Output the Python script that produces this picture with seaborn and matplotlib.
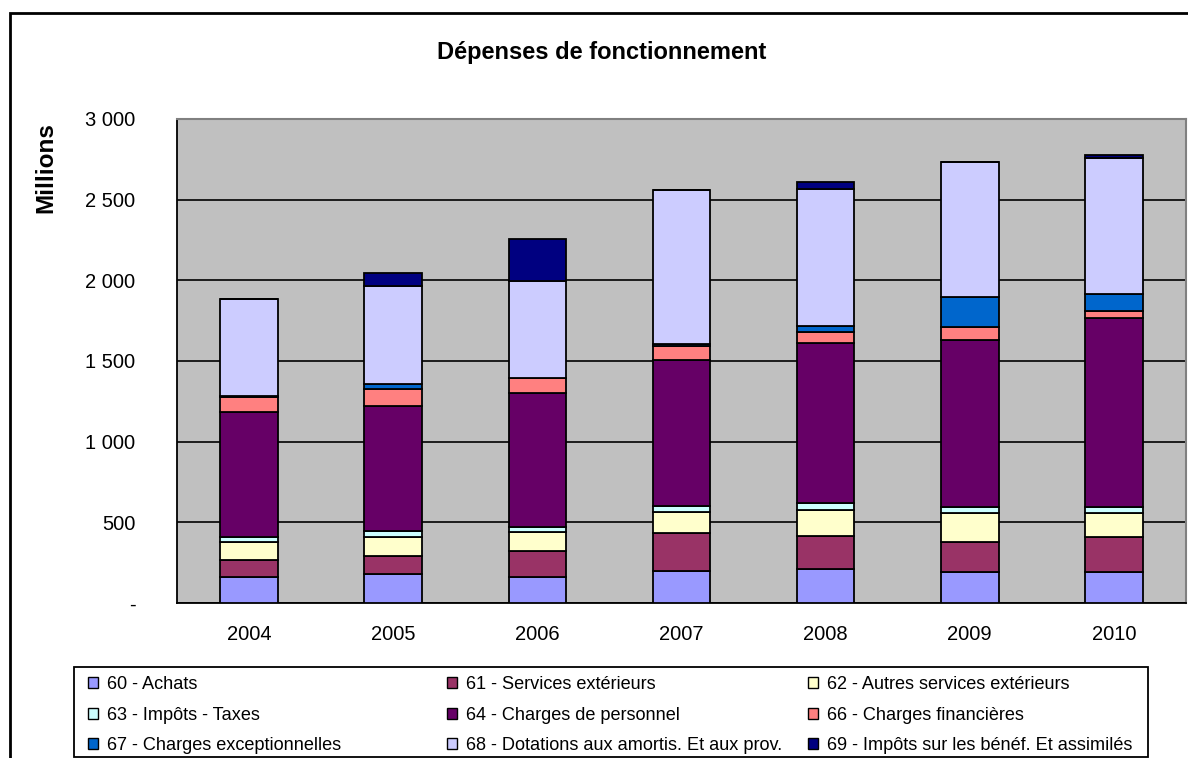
import matplotlib
matplotlib.use("Agg")
import matplotlib.pyplot as plt
import seaborn as sns
import numpy as np
import pandas as pd
from matplotlib.patches import Patch, Rectangle
from matplotlib.ticker import FuncFormatter, FixedLocator

# Données (en millions)
years = ["2004", "2005", "2006", "2007", "2008", "2009", "2010"]
achats = [161, 178, 161, 200, 211, 190, 190]
services_ext = [104, 116, 162, 232, 203, 186, 217]
autres_services = [116, 116, 116, 133, 165, 183, 152]
impots_taxes = [29, 37, 29, 39, 38, 37, 37]
charges_personnel = [774, 774, 832, 901, 993, 1035, 1171]
charges_fin = [95, 104, 97, 89, 70, 77, 46]
charges_exc = [5, 33, 0, 10, 38, 186, 100]
dotations = [600, 608, 599, 958, 849, 842, 848]
impots_benef = [0, 79, 261, 0, 41, 0, 15]

labels = ["60 - Achats", "61 - Services extérieurs", "62 - Autres services extérieurs",
          "63 - Impôts - Taxes", "64 - Charges de personnel", "66 - Charges financières",
          "67 - Charges exceptionnelles", "68 - Dotations aux amortis. Et aux prov.",
          "69 - Impôts sur les bénéf. Et assimilés"]
colors = ["#9999FF", "#993366", "#FFFFCC", "#CCFFFF", "#660066", "#FF8080",
          "#0066CC", "#CCCCFF", "#000080"]
series = [achats, services_ext, autres_services, impots_taxes, charges_personnel,
          charges_fin, charges_exc, dotations, impots_benef]

sns.set_style("white")
plt.rcParams['font.family'] = ['Liberation Sans', 'DejaVu Sans']
# texte en noir comme dans Excel
for key in ["text.color", "axes.labelcolor", "xtick.color", "ytick.color"]:
    plt.rcParams[key] = "black"

fig = plt.figure(figsize=(11.88, 7.58), dpi=100)

# cadre extérieur du graphique
fig.patches.append(Rectangle((10 / 1188, -0.05), 1.2, (758 - 13) / 758 + 0.05,
                             transform=fig.transFigure, fill=False,
                             edgecolor="black", linewidth=2, zorder=0))

ax = fig.add_axes([177 / 1188, (758 - 603) / 758, (1186 - 177) / 1188, (603 - 119) / 758])
ax.set_facecolor("#C0C0C0")

# barres empilées
bottom = np.zeros(len(years))
for vals, lab, col in zip(series, labels, colors):
    df = pd.DataFrame({"annee": years, "valeur": vals})
    sns.barplot(data=df, x="annee", y="valeur", color=col, bottom=bottom,
                width=0.4, edgecolor="black", linewidth=1.3, ax=ax,
                saturation=1, zorder=3)
    bottom = bottom + np.array(vals)

ax.set_xlim(-0.5, len(years) - 0.5)
ax.set_ylim(0, 3000)
ax.set_yticks(np.arange(0, 3001, 500))
ax.yaxis.set_major_formatter(FuncFormatter(
    lambda v, p: "-" if v == 0 else f"{int(v):,}".replace(",", " ")))
ax.grid(axis="y", color="black", linewidth=1.2, zorder=1)
ax.set_axisbelow(True)

ax.xaxis.set_minor_locator(FixedLocator(np.arange(-0.5, len(years), 1)))
ax.tick_params(axis="x", which="major", length=0, labelsize=14.5, pad=15.5)
ax.tick_params(axis="x", which="minor", length=6, width=1.2, color="black", direction="out")
ax.tick_params(axis="y", length=5, width=1.2, color="black", direction="out",
               labelsize=14.5, pad=25)
ax.set_xlabel("")
ax.set_ylabel("")

for side in ["left", "bottom"]:
    ax.spines[side].set_color("black")
    ax.spines[side].set_linewidth(1.3)
for side in ["top", "right"]:
    ax.spines[side].set_color("#808080")
    ax.spines[side].set_linewidth(1.5)

fig.text(602 / 1188, 1 - 52 / 758, "Dépenses de fonctionnement", ha="center",
         va="center", fontsize=17, fontweight="bold")
fig.text(46 / 1188, 1 - 168 / 758, "Millions", ha="center", va="center",
         rotation=90, fontsize=17.5, fontweight="bold")

# légende : cadre + trois colonnes
fig.patches.append(Rectangle((74 / 1188, (758 - 757) / 758), (1148 - 74) / 1188, (757 - 667) / 758,
                             transform=fig.transFigure, fill=True, facecolor="white",
                             edgecolor="black", linewidth=1.3, zorder=1))
handles = [Patch(facecolor=c, edgecolor="black", linewidth=1) for c in colors]
col_x = [84, 443, 804]
for j in range(3):
    idx = [j, j + 3, j + 6]
    leg = fig.legend([handles[i] for i in idx], [labels[i] for i in idx],
                     loc="upper left", bbox_to_anchor=(col_x[j] / 1188, 1 - 672.5 / 758),
                     frameon=False, fontsize=13.1, handlelength=0.55, handleheight=0.55,
                     handletextpad=0.5, labelspacing=0.74, borderaxespad=0, borderpad=0.2)

fig.savefig("out.png", dpi=100)
